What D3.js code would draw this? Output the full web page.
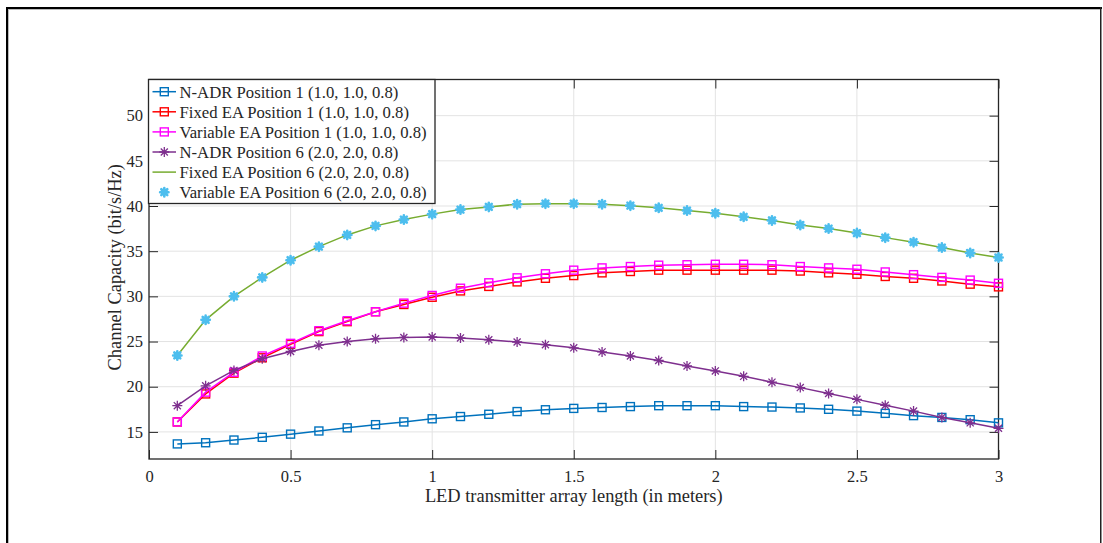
<!DOCTYPE html>
<html>
<head>
<meta charset="utf-8">
<script src="https://cdn.jsdelivr.net/npm/d3@7"></script>
<style>
  html, body { margin: 0; padding: 0; background: #fff; }
  svg { display: block; }
  text { font-family: "Liberation Serif", "Times New Roman", serif; fill: #262626; }
</style>
</head>
<body>
<svg id="chart" width="1103" height="543"></svg>
<script>
// Array length along x (m)
const lengths = [0.1,0.2,0.3,0.4,0.5,0.6,0.7,0.8,0.9,1.0,1.1,1.2,1.3,1.4,1.5,1.6,1.7,1.8,1.9,2.0,2.1,2.2,2.3,2.4,2.5,2.6,2.7,2.8,2.9,3.0];

// Channel capacity (bit/s/Hz) per configuration
const nadrPos1 = [13.67,13.8,14.1,14.4,14.75,15.1,15.45,15.8,16.1,16.45,16.7,16.95,17.25,17.45,17.6,17.7,17.8,17.9,17.9,17.9,17.8,17.75,17.65,17.5,17.3,17.05,16.8,16.6,16.35,16.0];
const fixedPos1 = [16.1,19.2,21.5,23.2,24.7,26.1,27.2,28.3,29.1,29.9,30.6,31.1,31.6,32.0,32.3,32.6,32.75,32.9,32.9,32.9,32.9,32.9,32.8,32.6,32.45,32.2,32.0,31.7,31.35,31.05];
const variablePos1 = [16.1,19.4,21.6,23.4,24.8,26.2,27.3,28.3,29.25,30.1,30.9,31.5,32.05,32.5,32.9,33.15,33.3,33.45,33.5,33.55,33.55,33.5,33.3,33.15,33.0,32.7,32.4,32.1,31.8,31.45];
const nadrPos6 = [17.9,20.1,21.8,23.1,23.9,24.6,25.0,25.3,25.45,25.5,25.4,25.2,24.95,24.65,24.3,23.85,23.4,22.9,22.3,21.75,21.15,20.5,19.9,19.25,18.6,17.95,17.3,16.6,16.0,15.4];
const fixedPos6 = [23.46,27.4,30.0,32.1,34.0,35.5,36.8,37.8,38.5,39.1,39.6,39.9,40.2,40.26,40.26,40.2,40.04,39.8,39.5,39.2,38.8,38.4,37.9,37.5,37.0,36.5,36.0,35.4,34.8,34.3];
const variablePos6 = [23.46,27.4,30.0,32.1,34.0,35.5,36.8,37.8,38.5,39.1,39.6,39.9,40.2,40.26,40.26,40.2,40.04,39.8,39.5,39.2,38.8,38.4,37.9,37.5,37.0,36.5,36.0,35.4,34.8,34.3];

const seriesNames = [
  "N-ADR Position 1 (1.0, 1.0, 0.8)",
  "Fixed EA Position 1 (1.0, 1.0, 0.8)",
  "Variable EA Position 1 (1.0, 1.0, 0.8)",
  "N-ADR Position 6 (2.0, 2.0, 0.8)",
  "Fixed EA Position 6 (2.0, 2.0, 0.8)",
  "Variable EA Position 6 (2.0, 2.0, 0.8)"
];

const xTicks = [0, 0.5, 1, 1.5, 2, 2.5, 3];
const xTickLabels = ["0", "0.5", "1", "1.5", "2", "2.5", "3"];
const yTicks = [15, 20, 25, 30, 35, 40, 45, 50];
const yTickLabels = ["15", "20", "25", "30", "35", "40", "45", "50"];

const series = [
  { name: seriesNames[0], values: nadrPos1, color: "#0072BD", line: true, marker: "square" },
  { name: seriesNames[1], values: fixedPos1, color: "#FF0000", line: true, marker: "square" },
  { name: seriesNames[2], values: variablePos1, color: "#FF00FF", line: true, marker: "square" },
  { name: seriesNames[3], values: nadrPos6, color: "#7E2F8E", line: true, marker: "star" },
  { name: seriesNames[4], values: fixedPos6, color: "#77AC30", line: true, marker: null },
  { name: seriesNames[5], values: variablePos6, color: "#4DBEEE", line: false, marker: "blob" }
];

const svg = d3.select("#chart");
svg.append("rect").attr("width", 1103).attr("height", 543).attr("fill", "#fff");

// page frame
svg.append("rect").attr("x", 6).attr("y", 7).attr("width", 1096).attr("height", 2).attr("fill", "#000");
svg.append("rect").attr("x", 6).attr("y", 7).attr("width", 2).attr("height", 536).attr("fill", "#000");
svg.append("rect").attr("x", 8).attr("y", 9).attr("width", 1092).attr("height", 1).attr("fill", "#bbb");
svg.append("rect").attr("x", 8).attr("y", 9).attr("width", 1).attr("height", 534).attr("fill", "#bbb");
svg.append("rect").attr("x", 1100).attr("y", 7).attr("width", 1.5).attr("height", 536).attr("fill", "#222");

const plot = { left: 149, right: 998.5, top: 79.5, bottom: 459 };
const x = d3.scaleLinear().domain([0, 3]).range([plot.left, plot.right]);
const y = d3.scaleLinear().domain([12, 54]).range([plot.bottom, plot.top]);

// grid
const grid = svg.append("g");
grid.selectAll("line.gx").data(xTicks.slice(1, -1)).enter().append("line")
  .attr("x1", d => x(d)).attr("x2", d => x(d))
  .attr("y1", plot.top).attr("y2", plot.bottom)
  .attr("stroke", "#e3e3e3").attr("stroke-width", 1);
grid.selectAll("line.gy").data(yTicks).enter().append("line")
  .attr("x1", plot.left).attr("x2", plot.right)
  .attr("y1", d => y(d)).attr("y2", d => y(d))
  .attr("stroke", "#e3e3e3").attr("stroke-width", 1);

// axes (ticks point inward, mirrored on the opposite sides)
const tickLen = 9;
const axisColor = "#262626";
const xAxis = d3.axisBottom(x).tickValues(xTicks).tickFormat((d, i) => xTickLabels[i]).tickSizeInner(-tickLen).tickSizeOuter(0).tickPadding(11);
const yAxis = d3.axisLeft(y).tickValues(yTicks).tickFormat((d, i) => yTickLabels[i]).tickSizeInner(-tickLen).tickSizeOuter(0).tickPadding(6);
const xAxisTop = d3.axisTop(x).tickValues(xTicks).tickFormat("").tickSizeInner(-tickLen).tickSizeOuter(0);
const yAxisRight = d3.axisRight(y).tickValues(yTicks).tickFormat("").tickSizeInner(-tickLen).tickSizeOuter(0);

function styleAxis(g) {
  g.select(".domain").remove();
  g.selectAll("line").attr("stroke", axisColor).attr("stroke-width", 1);
  g.selectAll("text").attr("font-family", "Liberation Serif, Times New Roman, serif").attr("font-size", 16.5).attr("fill", "#262626");
}
svg.append("g").attr("transform", `translate(0,${plot.bottom})`).call(xAxis).call(styleAxis);
svg.append("g").attr("transform", `translate(${plot.left},0)`).call(yAxis).call(styleAxis);
svg.append("g").attr("transform", `translate(0,${plot.top})`).call(xAxisTop).call(styleAxis);
svg.append("g").attr("transform", `translate(${plot.right},0)`).call(yAxisRight).call(styleAxis);

// plot box
svg.append("rect").attr("x", plot.left).attr("y", plot.top)
  .attr("width", plot.right - plot.left).attr("height", plot.bottom - plot.top)
  .attr("fill", "none").attr("stroke", axisColor).attr("stroke-width", 1.3);

// axis labels
svg.append("text").attr("x", (plot.left + plot.right) / 2).attr("y", 502)
  .attr("text-anchor", "middle").attr("font-size", 18.4)
  .text("LED transmitter array length (in meters)");
svg.append("text").attr("transform", `translate(121,${(plot.top + plot.bottom) / 2 - 2}) rotate(-90)`)
  .attr("text-anchor", "middle").attr("font-size", 18.4)
  .text("Channel Capacity (bit/s/Hz)");

// marker drawing helpers
function starPath(r) {
  let p = "";
  for (let k = 0; k < 4; k++) {
    const a = k * Math.PI / 4;
    const dx = r * Math.cos(a), dy = r * Math.sin(a);
    p += `M${-dx},${-dy}L${dx},${dy}`;
  }
  return p;
}
function drawMarker(g, type, color, cx, cy) {
  if (type === "square") {
    g.append("rect").attr("x", cx - 4).attr("y", cy - 4).attr("width", 8).attr("height", 8)
      .attr("fill", "none").attr("stroke", color).attr("stroke-width", 1.4);
  } else if (type === "star") {
    g.append("path").attr("transform", `translate(${cx},${cy})`).attr("d", starPath(5))
      .attr("fill", "none").attr("stroke", color).attr("stroke-width", 1.3);
  } else if (type === "blob") {
    g.append("path").attr("transform", `translate(${cx},${cy})`).attr("d", starPath(4.2))
      .attr("fill", "none").attr("stroke", color).attr("stroke-width", 2.6).attr("stroke-linecap", "round");
    g.append("circle").attr("cx", cx).attr("cy", cy).attr("r", 3).attr("fill", color);
  }
}

const line = d3.line().x((d, i) => x(lengths[i])).y(d => y(d));
const marks = svg.append("g");
series.forEach(s => {
  const g = marks.append("g");
  if (s.line) {
    g.append("path").datum(s.values).attr("d", line)
      .attr("fill", "none").attr("stroke", s.color).attr("stroke-width", 1.5);
  }
  if (s.marker) {
    s.values.forEach((v, i) => drawMarker(g, s.marker, s.color, x(lengths[i]), y(v)));
  }
});

// legend
const legend = svg.append("g");
const lg = { x: 148.5, y: 79.5, w: 286.5, h: 124 };
legend.append("rect").attr("x", lg.x).attr("y", lg.y).attr("width", lg.w).attr("height", lg.h)
  .attr("fill", "#fff").attr("stroke", axisColor).attr("stroke-width", 1.3);
series.forEach((s, i) => {
  const cy = 91.7 + i * 20.1;
  if (s.line) {
    legend.append("line").attr("x1", 152.5).attr("x2", 176).attr("y1", cy).attr("y2", cy)
      .attr("stroke", s.color).attr("stroke-width", 1.5);
  }
  if (s.marker) drawMarker(legend, s.marker, s.color, 164.3, cy);
  legend.append("text").attr("x", 179.5).attr("y", cy).attr("dy", "0.35em")
    .attr("font-size", 16.7).text(s.name);
});
</script>
</body>
</html>
